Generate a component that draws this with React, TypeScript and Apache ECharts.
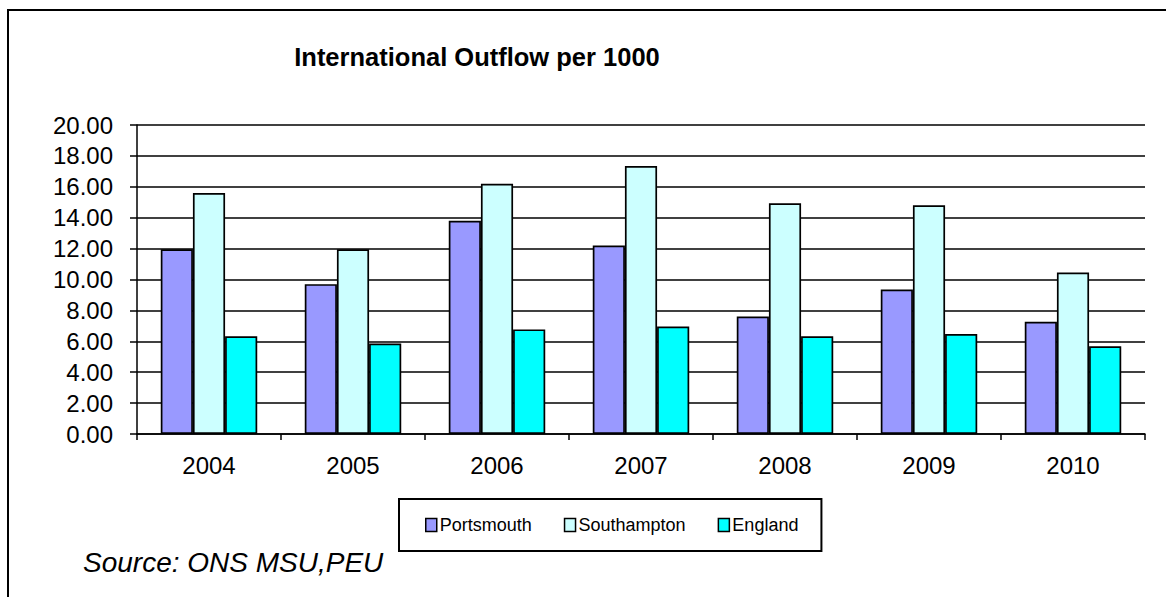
import React, { useEffect, useRef } from "react";
import * as echarts from "echarts";

const years = ["2004", "2005", "2006", "2007", "2008", "2009", "2010"];
const portsmouth = [11.95, 9.7, 13.8, 12.2, 7.6, 9.35, 7.27];
const southampton = [15.6, 11.95, 16.2, 17.35, 14.93, 14.8, 10.45];
const england = [6.32, 5.85, 6.77, 6.96, 6.32, 6.47, 5.68];

const FONT = "'Liberation Sans', Arial, sans-serif";

export default function App() {
  const ref = useRef<HTMLDivElement>(null);
  useEffect(() => {
    if (!ref.current) return;
    const chart = echarts.init(ref.current, null, { renderer: "svg" });
    const barStyle = (color: string) => ({
      color,
      borderColor: "#000",
      borderWidth: 1.7,
    });
    chart.setOption({
      animation: false,
      backgroundColor: "#fff",
      textStyle: { fontFamily: FONT },
      title: {
        text: "International Outflow per 1000",
        left: 472,
        top: 39,
        textAlign: "center",
        textStyle: { fontFamily: FONT, fontSize: 25.5, fontWeight: "bold", color: "#000" },
      },
      grid: { left: 137, right: 21, top: 125, bottom: 163, containLabel: false },
      xAxis: {
        type: "category",
        data: years,
        boundaryGap: true,
        axisLine: { show: true, lineStyle: { color: "#000", width: 1.5 } },
        axisTick: { show: true, alignWithLabel: false, length: 6, lineStyle: { color: "#000", width: 1.5 } },
        axisLabel: { margin: 19, color: "#000", fontSize: 24, fontFamily: FONT },
        splitLine: { show: false },
      },
      yAxis: {
        type: "value",
        min: 0,
        max: 20,
        interval: 2,
        axisLine: { show: true, lineStyle: { color: "#000", width: 1.5 } },
        axisTick: { show: true, inside: false, length: 7, lineStyle: { color: "#000", width: 1.5 } },
        axisLabel: {
          margin: 24,
          color: "#000",
          fontSize: 24,
          fontFamily: FONT,
          formatter: (v: number) => v.toFixed(2),
        },
        splitLine: { show: true, lineStyle: { color: "#000", width: 1.5 } },
      },
      legend: {
        left: 399,
        top: 499,
        orient: "horizontal",
        data: ["Portsmouth", "Southampton", "England"],
        icon: "rect",
        itemWidth: 11,
        itemHeight: 13,
        itemGap: 32,
        padding: [17, 23, 17, 26],
        borderColor: "#000",
        borderWidth: 2,
        itemStyle: { borderColor: "#000", borderWidth: 1.5 },
        textStyle: { fontSize: 18, color: "#000", fontFamily: FONT, padding: [0, 0, 0, -2] },
      },
      series: [
        { name: "Portsmouth", type: "bar", data: portsmouth, barGap: "0%", barCategoryGap: "33%", itemStyle: barStyle("#9999FF") },
        { name: "Southampton", type: "bar", data: southampton, barGap: "0%", barCategoryGap: "33%", itemStyle: barStyle("#CCFFFF") },
        { name: "England", type: "bar", data: england, barGap: "0%", barCategoryGap: "33%", itemStyle: barStyle("#00FFFF") },
      ],
      graphic: [
        {
          type: "rect",
          shape: { x: 8, y: 10, width: 1170, height: 600 },
          style: { fill: "none", stroke: "#000", lineWidth: 2 },
          silent: true,
          z: 100,
        },
        {
          type: "text",
          left: 83,
          top: 548,
          style: {
            text: "Source: ONS MSU,PEU",
            font: `italic 28px ${FONT}`,
            fill: "#000",
          },
        },
      ],
    });
    return () => chart.dispose();
  }, []);
  return (
    <div
      ref={ref}
      style={{ position: "absolute", left: 0, top: 0, width: 1166, height: 597 }}
    />
  );
}
